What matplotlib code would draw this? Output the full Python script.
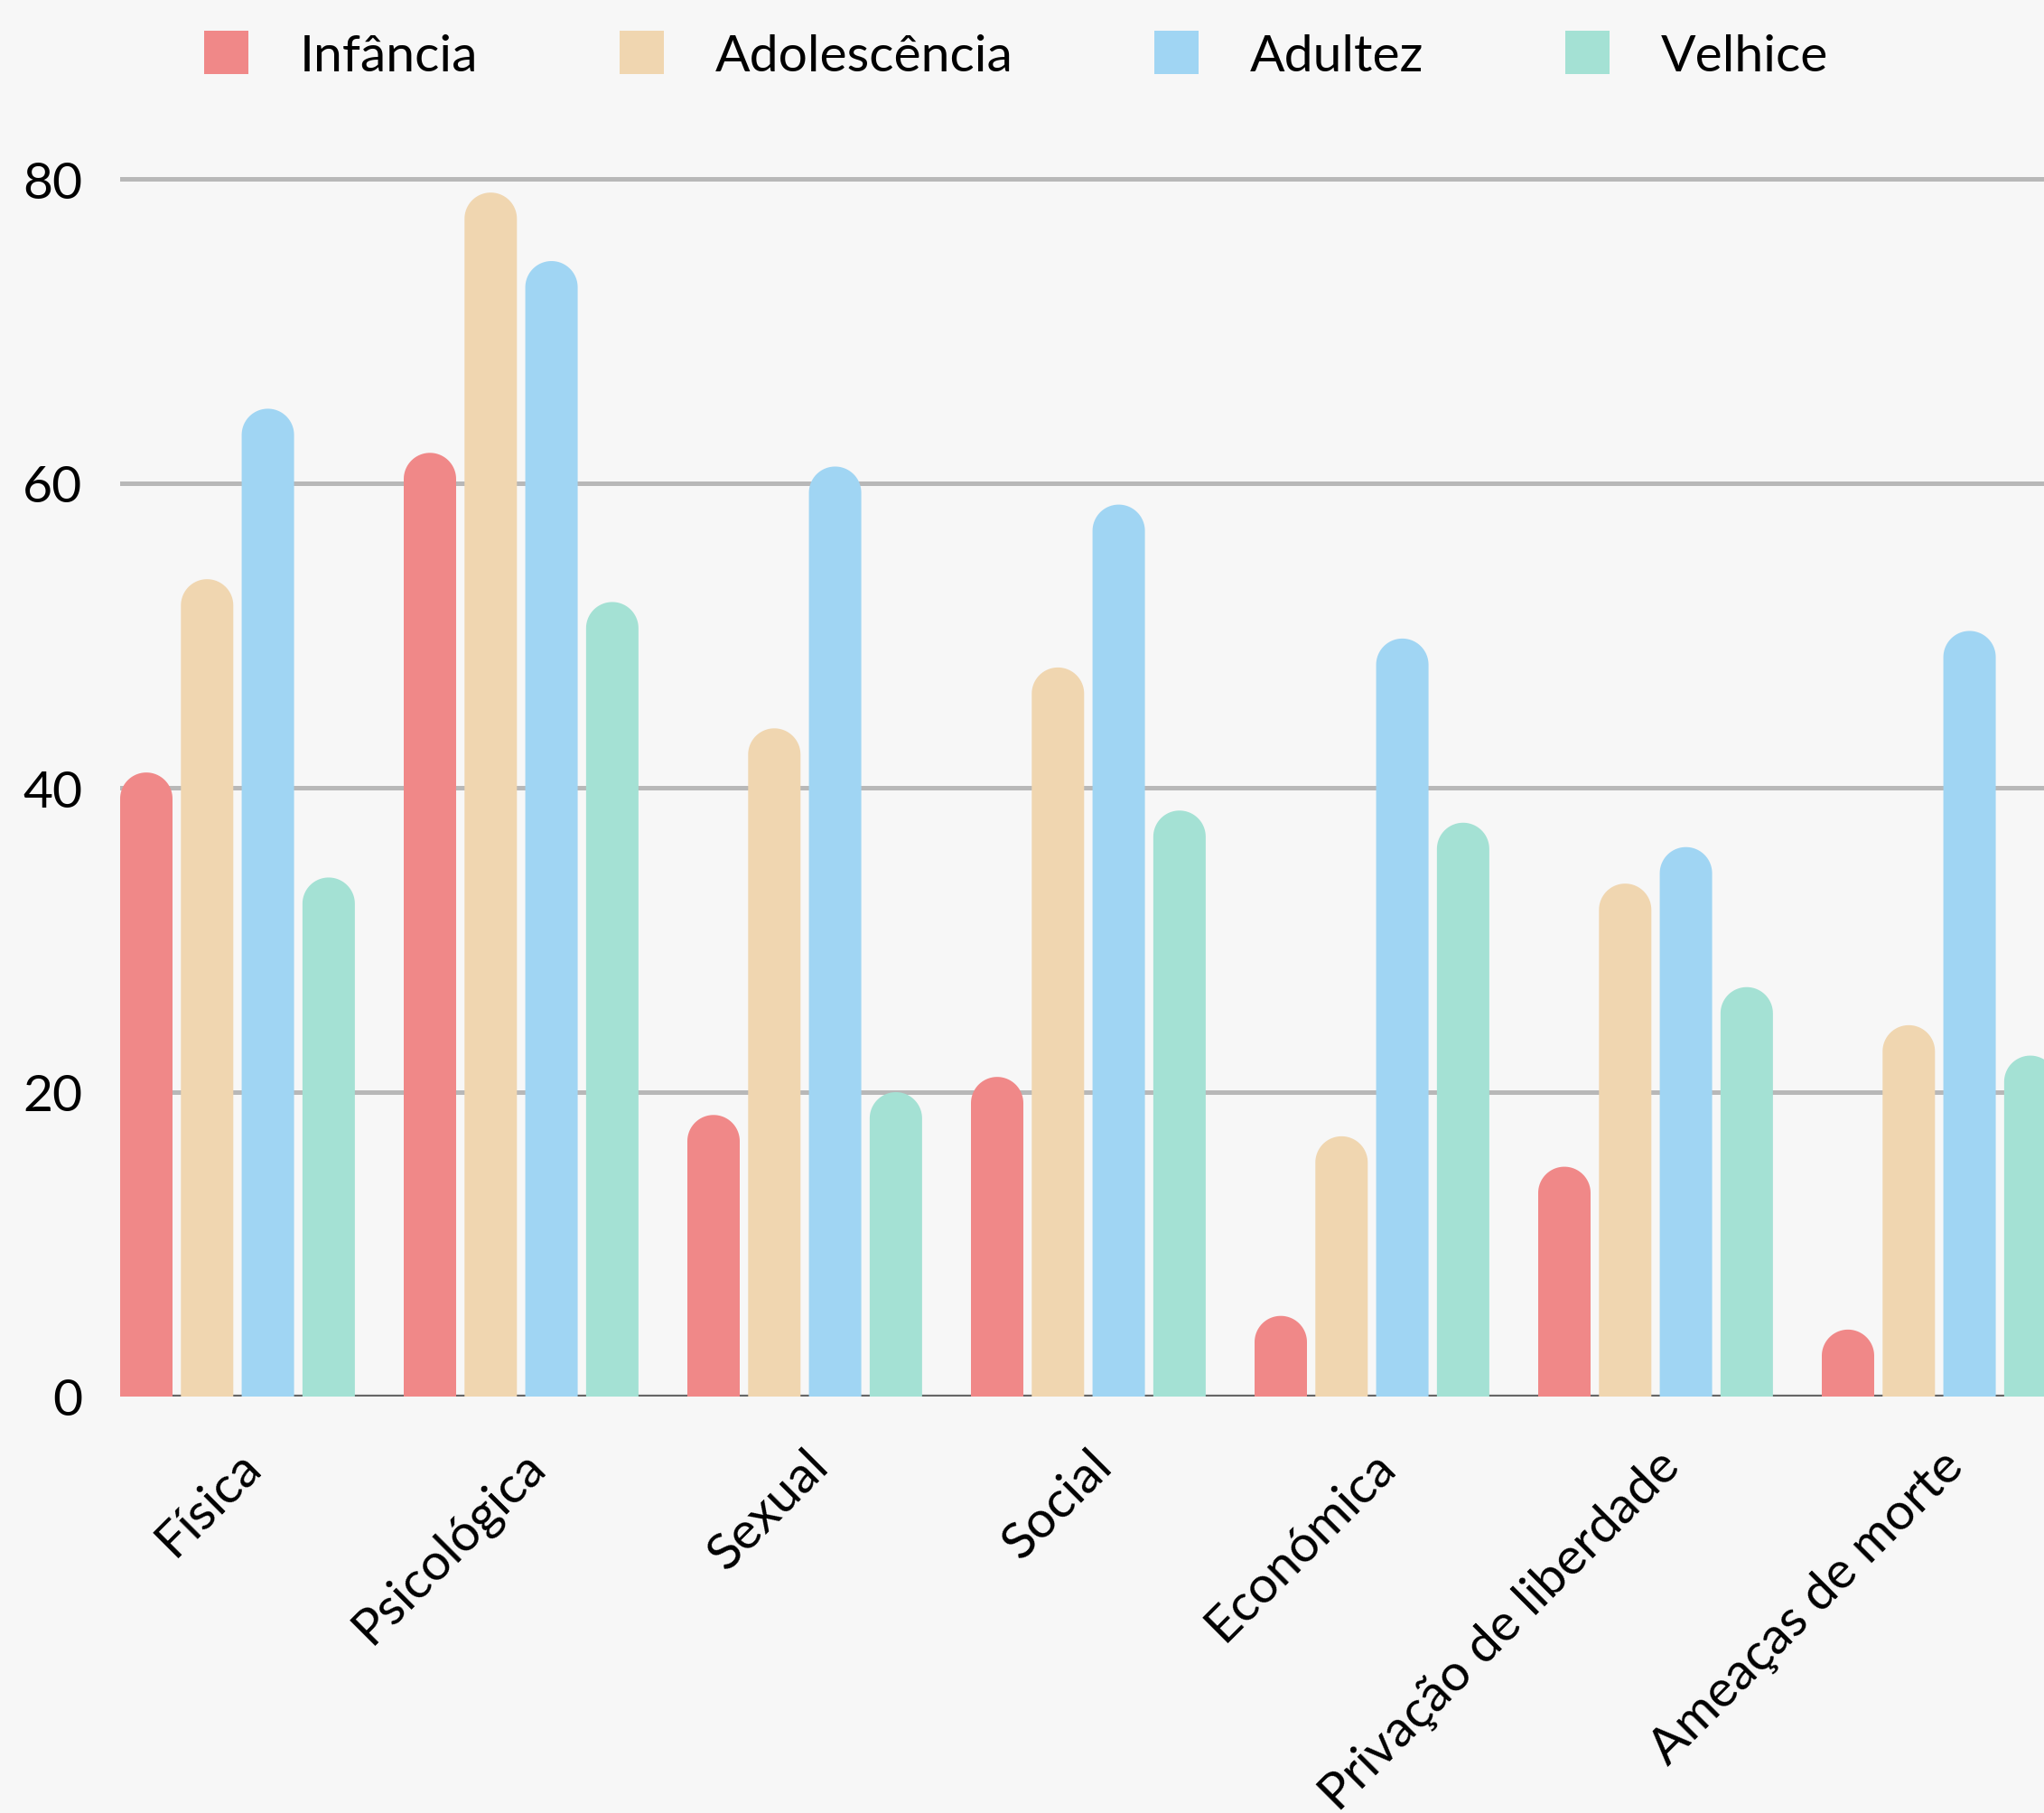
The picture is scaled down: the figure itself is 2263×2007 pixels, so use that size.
import numpy as np
import matplotlib
matplotlib.use('Agg')
import matplotlib.pyplot as plt
from matplotlib.path import Path
from matplotlib.patches import PathPatch, Patch

# data
categories = ['Física', 'Psicológica', 'Sexual', 'Social', 'Económica',
              'Privação de liberdade', 'Ameaças de morte']
series_names = ['Infância', 'Adolescência', 'Adultez', 'Velhice']
infancia = [41.0, 62.0, 18.5, 21.0, 5.3, 15.1, 4.4]
adolescencia = [53.7, 79.1, 43.9, 47.9, 17.1, 33.7, 24.4]
adultez = [64.9, 74.6, 61.1, 58.6, 49.8, 36.1, 50.3]
velhice = [34.1, 52.2, 20.0, 38.5, 37.7, 26.9, 22.4]
y_ticks = [0, 20, 40, 60, 80]

colors = ['#f08888', '#f0d6b0', '#a0d5f3', '#a4e1d4']
bg = '#f7f7f7'

plt.rcParams['font.family'] = ['Lato', 'DejaVu Sans']
FS = 41

W, H = 2263, 2008
fig = plt.figure(figsize=(W / 100, H / 100), dpi=100, facecolor=bg)

# axes run past the right edge of the figure, like in the reference
left_px, base_px = 133, 1547
px_per_unit_y = 16.85
ymax = 84
top_px = base_px - ymax * px_per_unit_y
ax = fig.add_axes([left_px / W, (H - base_px) / H, 1 - left_px / W, (base_px - top_px) / H])
ax.set_facecolor(bg)

group_w = 0.828
step = 0.2143
bar_w = 0.1847
xmin = -group_w / 2
xmax = xmin + (W - left_px) / 314.0
ax.set_xlim(xmin, xmax)
ax.set_ylim(0, ymax)

for s in ax.spines.values():
    s.set_visible(False)

for t in y_ticks[1:]:
    ax.axhline(t, color='#b8b8b8', lw=3.6, zorder=0)
ax.axhline(0, color='#666666', lw=3.8, zorder=1)

# pixel scale so the rounded caps are circular on screen
p0 = ax.transData.transform((0, 0))
p1 = ax.transData.transform((1, 1))
sx, sy = p1[0] - p0[0], p1[1] - p0[1]
rx = bar_w / 2
ry = rx * sx / sy


def rounded_bar(x0, h):
    r = min(ry, h)
    xc = x0 + rx
    t = np.linspace(np.pi, 0, 40)
    arc = np.column_stack([xc + rx * np.cos(t), h - r + r * np.sin(t)])
    verts = np.vstack([[x0, 0], [x0, h - r], arc, [x0 + bar_w, 0], [x0, 0]])
    codes = [Path.MOVETO] + [Path.LINETO] * (len(verts) - 2) + [Path.CLOSEPOLY]
    return Path(verts, codes)


all_series = [infancia, adolescencia, adultez, velhice]
for k, vals in enumerate(all_series):
    for i, v in enumerate(vals):
        x0 = i + xmin + k * step
        ax.add_patch(PathPatch(rounded_bar(x0, v), facecolor=colors[k],
                               edgecolor='none', zorder=2))

ax.set_yticks(y_ticks)
ax.set_yticklabels([str(t) for t in y_ticks], fontsize=FS)
ax.tick_params(axis='y', length=0, pad=30)
ax.set_xticks(range(len(categories)))
ax.set_xticklabels(categories, fontsize=FS, rotation=45, ha='right', va='top',
                   rotation_mode='anchor')
ax.tick_params(axis='x', length=0, pad=36)

handles = [Patch(facecolor=c, edgecolor='none') for c in colors]
fig.legend(handles, series_names, loc='center left',
           bbox_to_anchor=(226 / W, 1 - 62 / H), ncol=4, frameon=False,
           fontsize=FS, handlelength=0.86, handleheight=0.9,
           handletextpad=1.0, columnspacing=2.75, borderpad=0, borderaxespad=0)

fig.savefig('out.png', dpi=100, facecolor=bg)
